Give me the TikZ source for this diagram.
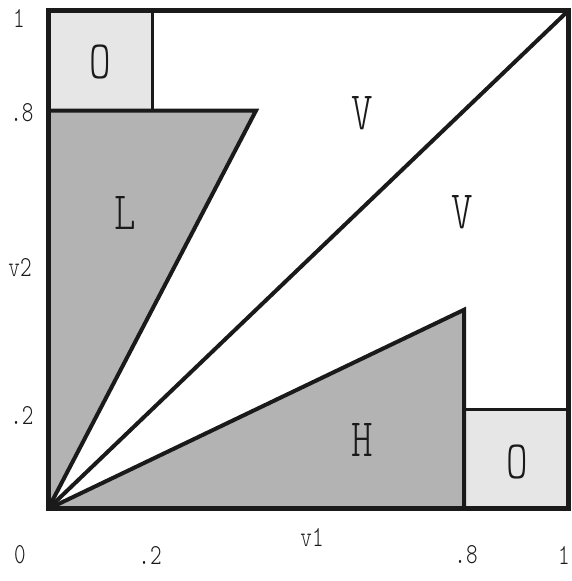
\documentclass[tikz,border=0pt]{standalone}
\usepackage{fontspec}
\newfontfamily\labfont[FakeStretch=0.76]{Latin Modern Mono Light}
\definecolor{ink}{HTML}{1A1A1A}
\definecolor{darkfill}{HTML}{B3B3B3}
\definecolor{lightfill}{HTML}{E6E6E6}
\tikzset{
  region/.style={font=\labfont\fontsize{54}{54}\selectfont, text=ink, inner sep=0pt},
  tick/.style={font=\labfont\fontsize{29}{29}\selectfont, text=ink, inner sep=0pt},
  edge/.style={draw=ink, line width=4pt, line join=miter},
  thinedge/.style={draw=ink, line width=3pt},
}
\begin{document}
\begin{tikzpicture}[x=1pt,y=1pt]
\useasboundingbox (0,0) rectangle (572,581);
\begin{scope}[shift={(48,72)}, x=520pt, y=498pt]
  \coordinate (o) at (0,0);
  \coordinate (tr) at (1,1);
  \coordinate (tl) at (0,1);
  \coordinate (br) at (1,0);
  \coordinate (la) at (0,0.8);
  \coordinate (lb) at (0.4,0.8);
  \coordinate (ha) at (0.8,0);
  \coordinate (hb) at (0.8,0.4);
  % fills
  \fill[lightfill] (0,0.8) rectangle (0.2,1);
  \fill[lightfill] (0.8,0) rectangle (1,0.2);
  \fill[darkfill] (o) -- (la) -- (lb) -- cycle;
  \fill[darkfill] (o) -- (ha) -- (hb) -- cycle;
  % box lines
  \draw[thinedge] (0.2,1) -- (0.2,0.8);
  \draw[thinedge] (0.8,0.2) -- (1,0.2);
  % triangles
  \draw[edge] (la) -- (lb) -- (o);
  \draw[edge] (ha) -- (hb) -- (o);
  \draw[edge] (o) -- (tr);
  % outer border
  \draw[edge, line width=5pt] (o) rectangle (tr);
\end{scope}
% region labels
\node[region] (o1) at (100,519) {O};
\node[region] (o2) at (517,119) {O};
\node[region] (v1) at (362,468) {V};
\node[region] (v2) at (462,369) {V};
\node[region] (lL) at (125,368) {L};
\node[region] (hH) at (362,141) {H};
% ticks
\node[tick] (ty1) at (19,563) {1};
\node[tick] (ty8) at (22,468) {.8};
\node[tick] (tyv) at (20,313) {v2};
\node[tick] (ty2) at (22,166) {.2};
\node[tick] (tx0) at (20,26) {0};
\node[tick] (tx2) at (150,26) {.2};
\node[tick] (txv) at (312,43) {v1};
\node[tick] (tx8) at (466,26) {.8};
\node[tick] (tx1) at (564,26) {1};
\end{tikzpicture}
\end{document}
